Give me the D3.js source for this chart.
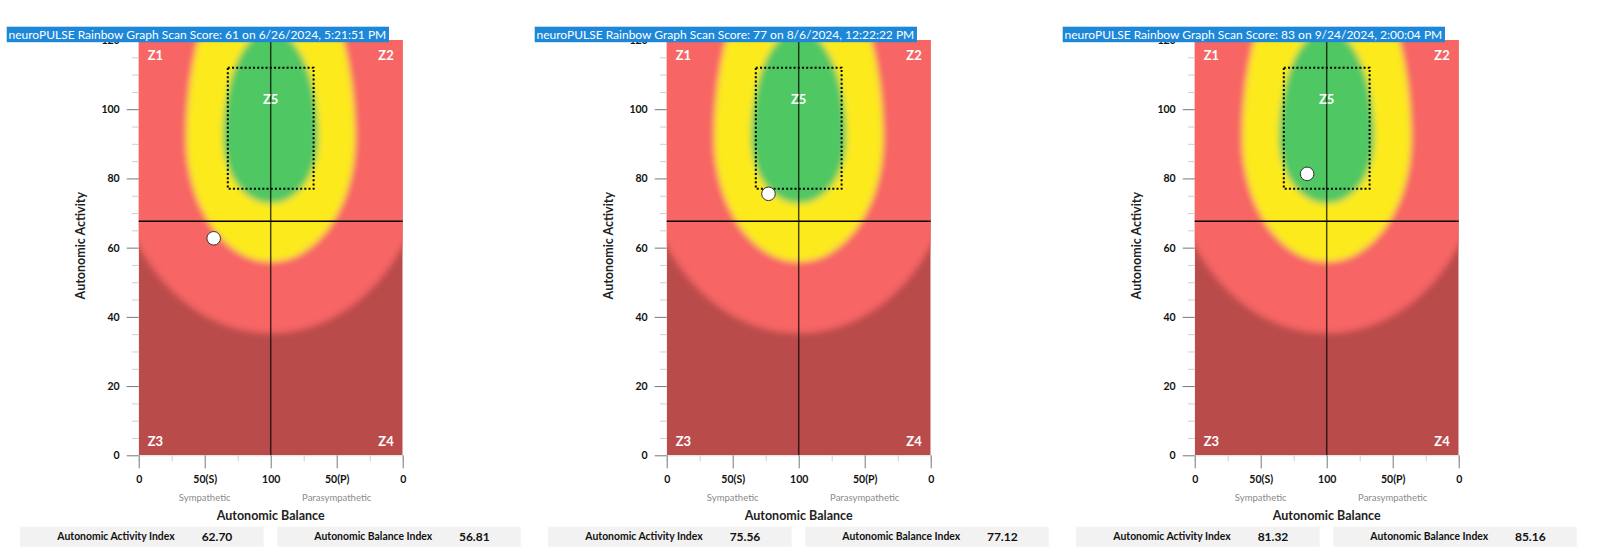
<!DOCTYPE html>
<html>
<head>
<meta charset="utf-8">
<script src="https://cdn.jsdelivr.net/npm/d3@7"></script>
<style>
  html, body { margin: 0; padding: 0; background: #fff; }
  svg { display: block; }
  text { font-family: Lato, "Noto Sans", sans-serif; }
</style>
</head>
<body>
<div id="chart"></div>
<script>
// ---------- data ----------
const scanScores = [61, 77, 83];
const scanDates = ["6/26/2024, 5:21:51 PM", "8/6/2024, 12:22:22 PM", "9/24/2024, 2:00:04 PM"];
const activityIndex = [62.70, 75.56, 81.32];
const balanceIndex = [56.81, 77.12, 85.16];

const xTickValues = [0, 50, 100, 150, 200];
const xTickLabels = ["0", "50(S)", "100", "50(P)", "0"];
const xMinorTicks = [25, 75, 125, 175];
const yTickValues = [0, 20, 40, 60, 80, 100, 120];
const yMinorTicks = [5, 10, 15, 25, 30, 35, 45, 50, 55, 65, 70, 75, 85, 90, 95, 105, 110, 115];
const xSideLabels = ["Sympathetic", "Parasympathetic"];
const xSideValues = [50, 150];
const zoneNames = ["Z1", "Z2", "Z3", "Z4", "Z5"];

// rainbow bands (data units): outer to inner
const bandColors = ["#f76565", "#fcea1f", "#4fc764"];
const bandCenterY = [91.5, 91.5, 91.5];
const bandRx = [120, 64, 36];
const bandRyTop = [80, 56, 31.4];
const bandRyBottom = [56.3, 35.6, 18.7];
const baseColor = "#b94b4a";

// reference lines & target box
const balanceCenter = 100;
const activityThreshold = 67.6;
const targetBoxX = [67.5, 132.5];
const targetBoxY = [77, 112];

// ---------- layout ----------
const W = 1600, H = 551;
const panelStep = 528;
const plotL = 138.7, plotR = 402.7, plotT = 40, plotB = 455.3;

const svg = d3.select("#chart").append("svg").attr("width", W).attr("height", H);
const defs = svg.append("defs");
defs.append("clipPath").attr("id", "plotClip")
  .append("rect").attr("x", plotL).attr("y", plotT)
  .attr("width", plotR - plotL).attr("height", plotB - plotT);
defs.append("filter").attr("id", "soft")
  .attr("x", "-50%").attr("y", "-50%").attr("width", "200%").attr("height", "200%")
  .append("feGaussianBlur").attr("stdDeviation", 3.2);

const x = d3.scaleLinear().domain([0, 200]).range([plotL, plotR]);
const y = d3.scaleLinear().domain([0, 120]).range([plotB, plotT]);

function eggPath(cx, cy, rx, ryT, ryB) {
  const px0 = x(cx - rx), px1 = x(cx + rx), pcy = y(cy);
  const prx = x(cx + rx) - x(cx);
  const pryT = y(cy) - y(cy + ryT);
  const pryB = y(cy - ryB) - y(cy);
  return `M${px0},${pcy} A${prx},${pryT} 0 0 1 ${px1},${pcy} A${prx},${pryB} 0 0 1 ${px0},${pcy} Z`;
}

scanScores.forEach((score, i) => {
  const g = svg.append("g").attr("transform", `translate(${i * panelStep},0)`);

  // background field
  const field = g.append("g").attr("clip-path", "url(#plotClip)");
  field.append("rect").attr("x", plotL).attr("y", plotT)
    .attr("width", plotR - plotL).attr("height", plotB - plotT).attr("fill", baseColor);
  const blurred = field.append("g").attr("filter", "url(#soft)");
  blurred.selectAll("path").data(bandColors).join("path")
    .attr("d", (c, k) => eggPath(balanceCenter, bandCenterY[k], bandRx[k], bandRyTop[k], bandRyBottom[k]))
    .attr("fill", c => c);

  // target box
  g.append("rect")
    .attr("x", x(targetBoxX[0])).attr("y", y(targetBoxY[1]))
    .attr("width", x(targetBoxX[1]) - x(targetBoxX[0]))
    .attr("height", y(targetBoxY[0]) - y(targetBoxY[1]))
    .attr("fill", "none").attr("stroke", "#000").attr("stroke-width", 2)
    .attr("stroke-dasharray", "2,2.2");

  // reference lines
  g.append("line").attr("x1", x(balanceCenter)).attr("x2", x(balanceCenter))
    .attr("y1", plotT).attr("y2", plotB)
    .attr("stroke", "#000").attr("stroke-opacity", 0.7).attr("stroke-width", 1.5);
  g.append("line").attr("x1", plotL).attr("x2", plotR)
    .attr("y1", y(activityThreshold)).attr("y2", y(activityThreshold))
    .attr("stroke", "#000").attr("stroke-width", 1.5);

  // zone labels
  const zonePos = [
    [x(0) + 9, y(120) + 15, "start"],
    [x(200) - 9, y(120) + 15, "end"],
    [x(0) + 9, y(0) - 14, "start"],
    [x(200) - 9, y(0) - 14, "end"],
    [x(100), y(102.7), "middle"]
  ];
  g.selectAll("text.zone").data(zoneNames).join("text").attr("class", "zone")
    .attr("x", (d, k) => zonePos[k][0]).attr("y", (d, k) => zonePos[k][1])
    .attr("dy", "0.35em").attr("text-anchor", (d, k) => zonePos[k][2])
    .attr("fill", "#fff").attr("font-size", 13).attr("font-weight", 700)
    .text(d => d);

  // point
  g.append("circle")
    .attr("cx", x(balanceIndex[i])).attr("cy", y(activityIndex[i])).attr("r", 6.8)
    .attr("fill", "#fff").attr("stroke", "#333").attr("stroke-width", 1);

  // y axis
  const yMinor = g.append("g").attr("transform", `translate(${plotL},0)`)
    .call(d3.axisLeft(y).tickValues(yMinorTicks).tickSize(6.5).tickFormat(""));
  yMinor.select(".domain").remove();
  yMinor.selectAll("line").attr("stroke", "#ccc");
  const yAx = g.append("g").attr("transform", `translate(${plotL},0)`)
    .call(d3.axisLeft(y).tickValues(yTickValues).tickSize(12).tickPadding(7));
  yAx.select(".domain").remove();
  yAx.selectAll("line").attr("stroke", "#777");
  yAx.selectAll("text").attr("font-family", "Lato, sans-serif")
    .attr("font-size", 10.5).attr("font-weight", 700).attr("fill", "#111");

  // x axis
  const xMinor = g.append("g").attr("transform", `translate(0,${plotB})`)
    .call(d3.axisBottom(x).tickValues(xMinorTicks).tickSize(6).tickFormat(""));
  xMinor.select(".domain").attr("stroke", "#ddd");
  xMinor.selectAll("line").attr("stroke", "#ccc");
  const xAx = g.append("g").attr("transform", `translate(0,${plotB})`)
    .call(d3.axisBottom(x).tickValues(xTickValues).tickSize(13)
      .tickFormat((d, k) => xTickLabels[k]));
  xAx.select(".domain").remove();
  xAx.selectAll("line").attr("stroke", "#777");
  xAx.selectAll("text").attr("y", 24).attr("dy", "0.35em")
    .attr("font-family", "Lato, sans-serif")
    .attr("font-size", 10.5).attr("font-weight", 700).attr("fill", "#111");

  g.selectAll("text.side").data(xSideLabels).join("text").attr("class", "side")
    .attr("x", (d, k) => x(xSideValues[k])).attr("y", 497.3).attr("dy", "0.35em")
    .attr("text-anchor", "middle").attr("font-size", 9.5).attr("fill", "#8a8a8a")
    .text(d => d);

  g.append("text").attr("x", x(100)).attr("y", 516).attr("dy", "0.35em")
    .attr("text-anchor", "middle").attr("font-size", 12.5).attr("font-weight", 700)
    .attr("fill", "#222").text("Autonomic Balance");

  g.append("text")
    .attr("transform", `translate(80.7,${(plotT + plotB) / 2 - 2}) rotate(-90)`)
    .attr("dy", "0.35em").attr("text-anchor", "middle")
    .attr("font-size", 12.5).attr("font-weight", 700).attr("fill", "#222")
    .text("Autonomic Activity");

  // index boxes
  const boxes = [
    ["Autonomic Activity Index", activityIndex[i].toFixed(2), 20],
    ["Autonomic Balance Index", balanceIndex[i].toFixed(2), 277.3]
  ];
  boxes.forEach(([lab, val, bx]) => {
    g.append("rect").attr("x", bx).attr("y", 526.7).attr("width", 243.5).attr("height", 20)
      .attr("fill", "#f2f2f2");
    g.append("text").attr("x", bx + 96).attr("y", 536.7).attr("dy", "0.35em")
      .attr("text-anchor", "middle").attr("font-size", 10.4).attr("font-weight", 700)
      .attr("fill", "#111").text(lab);
    g.append("text").attr("x", bx + 197).attr("y", 536.7).attr("dy", "0.35em")
      .attr("text-anchor", "middle").attr("font-size", 12).attr("font-weight", 700)
      .attr("fill", "#111").text(val);
  });

  // title bar
  const titleRect = g.append("rect")
    .attr("x", 6.7).attr("y", 26.7).attr("height", 15.5)
    .attr("fill", "#1d87d8");
  const title = g.append("text").attr("x", 8.5).attr("y", 38.9)
    .attr("font-family", "'Liberation Sans', Arial, sans-serif")
    .attr("font-size", 12).attr("fill", "#fff")
    .text(`neuroPULSE Rainbow Graph Scan Score: ${score} on ${scanDates[i]}`);
  const tw = title.node().getComputedTextLength();
  titleRect.attr("width", tw + 4.5);
});
</script>
</body>
</html>
